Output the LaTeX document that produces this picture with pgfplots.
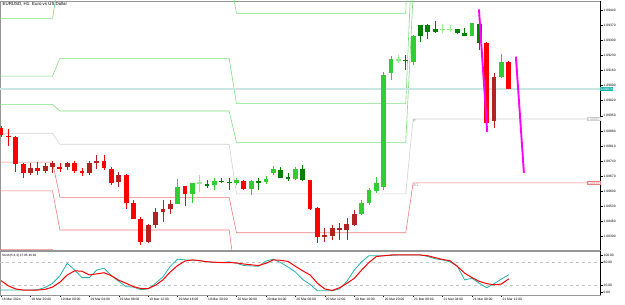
\documentclass[border=0pt]{standalone}
\usepackage{pgfplots}
\pgfplotsset{compat=1.18}
\usepackage{pgfplotstable}
\usepackage{fontspec}
\setmainfont{Liberation Sans}
\definecolor{cRed}{RGB}{255,0,0}
\definecolor{cDRed}{RGB}{178,34,34}
\definecolor{cGreen}{RGB}{50,205,50}
\definecolor{cDGreen}{RGB}{0,128,0}
\definecolor{cLGreen}{RGB}{144,238,144}
\definecolor{pivG}{RGB}{125,222,125}
\definecolor{pivR}{RGB}{240,125,125}
\definecolor{pivP}{RGB}{210,210,210}
\definecolor{bidline}{RGB}{200,230,226}
\definecolor{bidbox}{RGB}{32,178,170}
\definecolor{stK}{RGB}{32,178,170}
\definecolor{frame}{RGB}{150,150,150}
\definecolor{fcst}{RGB}{255,0,255}
\definecolor{lblgray}{RGB}{160,160,160}
\newcommand\tkf{\fontsize{3.3}{4}\selectfont}

\pgfplotstableread{
h open high low close col
0 1.08893 1.08903 1.08852 1.08861 1
1 1.08860 1.08889 1.08810 1.08855 1
2 1.08853 1.08856 1.08691 1.08727 1
3 1.08727 1.08731 1.08662 1.08685 1
4 1.08709 1.08731 1.08676 1.08686 2
5 1.08709 1.08736 1.08676 1.08694 1
6 1.08717 1.08731 1.08685 1.08694 2
7 1.08733 1.08740 1.08685 1.08714 2
8 1.08714 1.08731 1.08690 1.08708 1
9 1.08730 1.08736 1.08699 1.08714 2
10 1.08730 1.08740 1.08685 1.08696 1
11 1.08696 1.08708 1.08671 1.08684 1
12 1.08733 1.08740 1.08676 1.08684 2
13 1.08740 1.08768 1.08703 1.08733 2
14 1.08740 1.08768 1.08699 1.08707 1
15 1.08707 1.08713 1.08629 1.08642 1
16 1.08676 1.08690 1.08620 1.08642 2
17 1.08676 1.08680 1.08518 1.08547 1
18 1.08547 1.08560 1.08472 1.08472 1
19 1.08472 1.08483 1.08351 1.08367 1
20 1.08444 1.08449 1.08361 1.08367 2
21 1.08503 1.08523 1.08430 1.08444 2
22 1.08517 1.08560 1.08458 1.08506 2
23 1.08541 1.08560 1.08495 1.08517 2
24 1.08541 1.08657 1.08541 1.08621 3
25 1.08625 1.08625 1.08532 1.08588 1
26 1.08588 1.08637 1.08546 1.08637 3
27 1.08639 1.08676 1.08597 1.08642 5
28 1.08625 1.08653 1.08615 1.08637 4
29 1.08628 1.08662 1.08606 1.08649 3
30 1.08645 1.08662 1.08639 1.08649 4
31 1.08641 1.08662 1.08606 1.08646 4
32 1.08640 1.08662 1.08629 1.08653 3
33 1.08648 1.08653 1.08606 1.08614 1
34 1.08614 1.08653 1.08584 1.08648 3
35 1.08643 1.08662 1.08606 1.08648 4
36 1.08643 1.08671 1.08634 1.08656 3
37 1.08684 1.08717 1.08676 1.08702 3
38 1.08665 1.08713 1.08662 1.08702 4
39 1.08657 1.08685 1.08648 1.08668 4
40 1.08656 1.08713 1.08653 1.08703 3
41 1.08653 1.08722 1.08648 1.08703 4
42 1.08653 1.08653 1.08514 1.08522 1
43 1.08524 1.08528 1.08362 1.08390 1
44 1.08398 1.08430 1.08365 1.08390 2
45 1.08429 1.08444 1.08375 1.08393 2
46 1.08429 1.08453 1.08375 1.08421 2
47 1.08449 1.08477 1.08375 1.08421 2
48 1.08498 1.08514 1.08439 1.08444 2
49 1.08494 1.08560 1.08490 1.08547 3
50 1.08547 1.08615 1.08537 1.08606 3
51 1.08603 1.08666 1.08592 1.08637 3
52 1.08621 1.09153 1.08606 1.09143 3
53 1.09150 1.09227 1.09116 1.09212 3
54 1.09209 1.09232 1.09195 1.09213 5
55 1.09205 1.09232 1.09162 1.09212 4
56 1.09198 1.09324 1.09185 1.09319 3
57 1.09321 1.09371 1.09292 1.09371 4
58 1.09337 1.09375 1.09307 1.09371 4
59 1.09337 1.09389 1.09333 1.09352 4
60 1.09350 1.09375 1.09333 1.09354 5
61 1.09350 1.09371 1.09338 1.09354 5
62 1.09332 1.09352 1.09329 1.09351 4
63 1.09319 1.09357 1.09319 1.09332 4
64 1.09319 1.09380 1.09319 1.09378 3
65 1.09378 1.09380 1.09255 1.09289 4
66 1.09289 1.09292 1.08876 1.08918 1
67 1.09131 1.09150 1.08892 1.08927 2
68 1.09131 1.09239 1.09125 1.09198 3
69 1.09198 1.09204 1.09074 1.09074 1
}\candles

\pgfplotstableread{
h k d
0 7 32
1 7 18
2 7 10
3 7 7
4 7 7
5 8 7
6 14 9
7 25 15
8 45 28
9 78 47
10 60 58
11 40 57
12 40 47
13 60 50
14 65 53
15 45 45
16 30 33
17 16 25
18 15 16
19 8 11
20 10 11
21 25 20
22 42 34
23 70 55
24 89 72
25 87 84
26 86 87
27 85 85
28 82 82
29 80 81
30 80 80
31 82 80
32 78 79
33 72 76
34 71 74
35 70 72
36 84 78
37 89 87
38 80 86
39 68 83
40 55 70
41 35 58
42 22 47
43 5 25
44 5 10
45 5 6
46 10 13
47 30 25
48 60 38
49 82 60
50 98 80
51 98 96
52 98 98
53 99 100
54 100 100
55 100 100
56 100 100
57 100 100
58 96 98
59 90 93
60 87 88
61 82 85
62 71 70
63 34 52
64 38 40
65 25 30
66 13 24
67 24 21
68 36 23
69 47.85 36.82
}\stoch

\pgfplotsset{
  wick/.style={draw=none, forget plot,
    error bars/y dir=both, error bars/y explicit, error bars/error mark=none,
    error bars/error bar style={line width=0.75pt, draw=#1}},
  body/.style={draw=none, forget plot,
    error bars/y dir=both, error bars/y explicit, error bars/error mark=none,
    error bars/error bar style={line width=4.8pt, draw=#1}},
}
\newcommand\candleclass[2]{%
  \addplot[wick=#2, restrict expr to domain={\thisrow{col}}{#1:#1}]
    table[x=h, y expr={(\thisrow{high}+\thisrow{low})/2}, y error expr={(\thisrow{high}-\thisrow{low})/2}] {\candles};
  \addplot[body=#2, restrict expr to domain={\thisrow{col}}{#1:#1}]
    table[x=h, y expr={(\thisrow{open}+\thisrow{close})/2}, y error expr={max(abs(\thisrow{open}-\thisrow{close})/2,0.000012)}] {\candles};
}

\begin{document}
\begin{tikzpicture}[x=1pt,y=1pt]
\path[use as bounding box] (0pt,0pt) rectangle (625pt,-305pt);
\begin{axis}[name=main, at={(0pt,-1pt)}, anchor=north west, scale only axis,
  width=600pt, height=249.5pt,
  xmin=-0.14, xmax=81.4, ymin=1.08326, ymax=1.094817,
  xtick=\empty, scaled y ticks=false,
  ytick={1.0839,1.0846,1.0853,1.086,1.0867,1.0874,1.0881,1.0888,1.0895,1.0902,1.0909,1.0916,1.0923,1.093,1.0937,1.0944},
  yticklabels={1.08390,1.08460,1.08530,1.08600,1.08670,1.08740,1.08810,1.08880,1.08950,1.09020,1.09090,1.09160,1.09230,1.09300,1.09370,1.09440},
  yticklabel pos=right, ytick pos=right, tick align=outside, major tick length=2.5pt,
  tick style={black, line width=0.4pt},
  yticklabel style={font=\tkf, inner sep=1pt},
  axis line style={frame, line width=0.5pt},
  /pgf/number format/assume math mode=true]
% pivot levels
\addplot[pivG, line width=0.6pt] coordinates {(-1,1.09401) (7,1.09401) (8,1.09617) (31,1.09617) (32,1.09425) (55,1.09425) (56,1.10674) (82,1.10674)};
\addplot[pivG, line width=0.6pt] coordinates {(-1,1.09134) (7,1.09134) (8,1.09216) (31,1.09216) (32,1.09006) (55,1.09006) (56,1.09805) (82,1.09805)};
\addplot[pivG, line width=0.6pt] coordinates {(-1,1.09003) (7,1.09003) (8,1.08972) (31,1.08972) (32,1.08827) (55,1.08827) (56,1.09508) (82,1.09508)};
\addplot[pivP, line width=0.6pt] coordinates {(-1,1.08869) (7,1.08869) (8,1.08818) (31,1.08818) (32,1.08588) (55,1.08588) (56,1.08935) (82,1.08935)};
\addplot[pivR, line width=0.6pt] coordinates {(-1,1.08735) (7,1.08735) (8,1.08572) (31,1.08572) (32,1.08408) (55,1.08408) (56,1.08639) (82,1.08639)};
\addplot[pivR, line width=0.6pt] coordinates {(-1,1.08602) (7,1.08602) (8,1.08421) (31,1.08421) (32,1.08169) (55,1.08169) (56,1.08066) (82,1.08066)};
\addplot[pivR, line width=0.6pt] coordinates {(-1,1.08331) (7,1.08331) (8,1.08018) (31,1.08018) (32,1.07750) (55,1.07750) (56,1.07196) (82,1.07196)};
% bid line
\addplot[bidline, line width=1.2pt] coordinates {(-1,1.09074) (82,1.09074)};
% candles
\candleclass{1}{cRed}
\candleclass{2}{cDRed}
\candleclass{3}{cGreen}
\candleclass{4}{cDGreen}
\candleclass{5}{cLGreen}
% magenta forecast lines
\addplot[fcst, line width=1.9pt] coordinates {(64.95,1.09443) (66.07,1.08876)};
\addplot[fcst, line width=1.9pt] coordinates {(69.97,1.09224) (71.06,1.08686)};
\coordinate (bidc) at (axis cs:81.4,1.09074);
\coordinate (pc) at (axis cs:81.4,1.08935);
\coordinate (s1c) at (axis cs:81.4,1.08639);
\coordinate (plab) at (axis cs:55.9,1.08935);
\coordinate (s1lab) at (axis cs:55.9,1.08639);
\end{axis}
\draw[black, line width=0.8pt] (main.north east) -- (main.south east);
\node[anchor=west, fill=bidbox, text=white, inner sep=0.6pt, font=\tkf] at (bidc) {1.09074};
\node[anchor=east, fill=white, draw=pivP, text=lblgray, inner sep=0.4pt, line width=0.4pt, font=\tkf] at (pc) {1.08935};
\node[anchor=east, fill=white, draw=pivR, text=pivR, inner sep=0.4pt, line width=0.4pt, font=\tkf] at (s1c) {1.08639};
\node[anchor=north west, text=lblgray, inner sep=0.5pt, font=\fontsize{4.4}{5}\selectfont] at (plab) {P};
\node[anchor=north west, text=lblgray, inner sep=0.5pt, font=\fontsize{4.4}{5}\selectfont] at (s1lab) {S1};
\node[anchor=north west, inner sep=0pt, font=\fontsize{4.4}{5}\selectfont] at (2.5pt,-2.3pt) {EURUSD, H1: Euro vs US Dollar};

\begin{axis}[name=sub, at={(0pt,-251pt)}, anchor=north west, scale only axis,
  width=600pt, height=44pt,
  xmin=-0.14, xmax=81.4, ymin=-6.1, ymax=110.6,
  ytick={0,20,80,100}, yticklabels={0.00,20.00,80.00,100.00},
  yticklabel pos=right, ytick pos=right, xtick pos=bottom,
  xtick={0,4,...,68},
  xticklabels={18 Mar 2024,18 Mar 20:00,19 Mar 00:00,19 Mar 04:00,19 Mar 08:00,19 Mar 12:00,19 Mar 16:00,19 Mar 20:00,20 Mar 00:00,20 Mar 04:00,20 Mar 08:00,20 Mar 12:00,20 Mar 16:00,20 Mar 20:00,21 Mar 00:00,21 Mar 04:00,21 Mar 08:00,21 Mar 12:00},
  xticklabel style={anchor=north west, inner sep=0.5pt, xshift=0.4pt, font=\tkf},
  yticklabel style={font=\tkf, inner sep=1pt},
  tick align=outside, major tick length=2.5pt,
  tick style={black, line width=0.4pt},
  axis line style={frame, line width=0.5pt},
  /pgf/number format/assume math mode=true]
\addplot[gray!45, dashed, line width=0.4pt] coordinates {(-1,20) (82,20)};
\addplot[gray!45, dashed, line width=0.4pt] coordinates {(-1,80) (82,80)};
\addplot[stK, line width=0.8pt] table[x=h, y=k] {\stoch};
\addplot[cRed, line width=1.0pt] table[x=h, y=d] {\stoch};
\end{axis}
\draw[black, line width=0.8pt] (sub.north east) -- (sub.south east);
\node[anchor=north west, inner sep=0pt, font=\fontsize{3.1}{4}\selectfont] at (2pt,-254pt) {Stoch(5,3,3) 47.85 36.82};
\end{tikzpicture}
\end{document}
